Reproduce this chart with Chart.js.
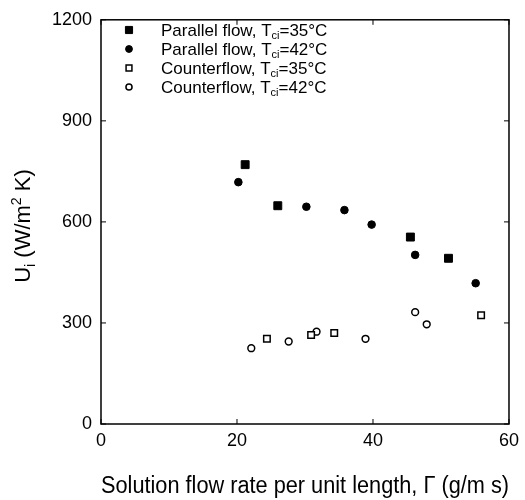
<!DOCTYPE html>
<html>
<head>
<meta charset="utf-8">
<script src="https://cdn.jsdelivr.net/npm/chart.js@4.4.1/dist/chart.umd.min.js"></script>
<style>
  html, body { margin: 0; padding: 0; background: #fff; }
  #wrap { width: 525px; height: 500px; }
</style>
</head>
<body>
<div id="wrap"><canvas id="chart_1" width="525" height="500"></canvas></div>
<script>
// datos: caudal Gamma (g/m s) y U_i (W/m2 K)
var nombres = ["Parallel flow", "Parallel flow", "Counterflow", "Counterflow"];
var temperaturas = ["35°C", "42°C", "35°C", "42°C"];

var gammaPar35 = [21.2, 26.0, 45.5, 51.1];
var uPar35     = [770, 648, 555, 492];

var gammaPar42 = [20.2, 30.2, 35.8, 39.8, 46.2, 55.1];
var uPar42     = [718, 645, 635, 592, 502, 418];

var gammaCon35 = [24.4, 30.9, 34.3, 55.9];
var uCon35     = [253, 264, 270, 323];

var gammaCon42 = [22.1, 27.6, 31.7, 38.9, 46.2, 47.9];
var uCon42     = [225, 245, 274, 253, 332, 296];

var ticksX = [0, 20, 40, 60];
var ticksY = [0, 300, 600, 900, 1200];

function pares(xs, ys) {
  return xs.map(function(x, i) { return { x: x, y: ys[i] }; });
}

var fuente = "Arial, 'Liberation Sans', sans-serif";

var datasets = [
  { data: pares(gammaPar35, uPar35), pointStyle: 'rect', pointRadius: 5.6, backgroundColor: '#000', borderColor: '#000', borderWidth: 1 },
  { data: pares(gammaPar42, uPar42), pointStyle: 'circle', pointRadius: 3.8, backgroundColor: '#000', borderColor: '#000', borderWidth: 1 },
  { data: pares(gammaCon35, uCon35), pointStyle: 'rect', pointRadius: 4.6, backgroundColor: '#fff', borderColor: '#000', borderWidth: 1.5 },
  { data: pares(gammaCon42, uCon42), pointStyle: 'circle', pointRadius: 3.4, backgroundColor: '#fff', borderColor: '#000', borderWidth: 1.5 }
];
datasets.forEach(function(d, i) {
  d.label = nombres[i] + ", Tci=" + temperaturas[i];
  d.pointHoverRadius = d.pointRadius;
});

// marco y marcas hacia adentro
var marco = {
  id: 'marco',
  afterDatasetsDraw: function(chart) {
    var ctx = chart.ctx, a = chart.chartArea;
    var sx = chart.scales.x, sy = chart.scales.y;
    ctx.save();
    ctx.strokeStyle = '#000';
    ctx.lineWidth = 1.5;
    ctx.strokeRect(a.left, a.top, a.right - a.left, a.bottom - a.top);
    ctx.lineWidth = 1;
    ctx.beginPath();
    ticksX.forEach(function(v) {
      var px = sx.getPixelForValue(v);
      ctx.moveTo(px, a.bottom); ctx.lineTo(px, a.bottom - 5);
      ctx.moveTo(px, a.top); ctx.lineTo(px, a.top + 5);
    });
    ticksY.forEach(function(v) {
      var py = sy.getPixelForValue(v);
      ctx.moveTo(a.left, py); ctx.lineTo(a.left + 5, py);
      ctx.moveTo(a.right, py); ctx.lineTo(a.right - 5, py);
    });
    ctx.stroke();
    ctx.restore();
  }
};

// dibuja trozos de texto con subindices / superindices
function textoPartes(ctx, partes, x, y, alinear) {
  var total = 0;
  partes.forEach(function(p) {
    ctx.font = p.size + "px " + fuente;
    p.w = ctx.measureText(p.t).width;
    total += p.w;
  });
  var cx = alinear === 'center' ? x - total / 2 : x;
  partes.forEach(function(p) {
    ctx.font = p.size + "px " + fuente;
    ctx.fillText(p.t, cx, y + (p.dy || 0));
    cx += p.w;
  });
}

var textos = {
  id: 'textos',
  afterDraw: function(chart) {
    var ctx = chart.ctx;
    ctx.save();
    ctx.textBaseline = 'alphabetic';

    // titulo eje y
    ctx.save();
    ctx.fillStyle = '#000';
    ctx.translate(30, 226);
    ctx.rotate(-Math.PI / 2);
    textoPartes(ctx, [
      { t: "U", size: 22 },
      { t: "i", size: 14, dy: 5 },
      { t: " (W/m", size: 22 },
      { t: "2", size: 14, dy: -9 },
      { t: " K)", size: 22 }
    ], 0, 0, 'center');
    ctx.restore();

    // leyenda
    chart.data.datasets.forEach(function(d, i) {
      var y = 30 + i * 19;
      ctx.fillStyle = d.backgroundColor;
      ctx.strokeStyle = d.borderColor;
      ctx.lineWidth = d.borderWidth;
      Chart.helpers.drawPoint(ctx, {
        pointStyle: d.pointStyle, radius: d.pointRadius * 0.9, rotation: 0, borderWidth: d.borderWidth
      }, 129, y);
      ctx.fillStyle = '#000';
      textoPartes(ctx, [
        { t: nombres[i] + ", T", size: 17 },
        { t: "ci", size: 11, dy: 3 },
        { t: "=" + temperaturas[i], size: 17 }
      ], 161, y + 6, 'left');
    });
    ctx.restore();
  }
};

var ctx = document.getElementById('chart_1').getContext('2d');
var chart = new Chart(ctx, {
  type: 'scatter',
  data: { datasets: datasets },
  options: {
    responsive: false,
    animation: false,
    devicePixelRatio: 1,
    layout: { padding: { top: 15, right: 12, left: 0, bottom: 0 } },
    plugins: {
      legend: { display: false },
      tooltip: { enabled: false }
    },
    scales: {
      x: {
        type: 'linear', min: 0, max: 60,
        afterFit: function(s) { s.height = 76; },
        afterBuildTicks: function(s) { s.ticks = ticksX.map(function(v) { return { value: v }; }); },
        grid: { display: false, drawTicks: false },
        border: { display: false },
        ticks: { color: '#000', font: { size: 18, family: fuente }, padding: 6, maxRotation: 0,
                 callback: function(v) { return String(v); } },
        title: {
          display: true,
          text: "Solution flow rate per unit length, Γ (g/m s)",
          color: '#000',
          font: { size: 23, family: fuente },
          padding: { top: 10, bottom: 0 }
        }
      },
      y: {
        type: 'linear', min: 0, max: 1200,
        afterFit: function(s) { s.width = 101; },
        afterBuildTicks: function(s) { s.ticks = ticksY.map(function(v) { return { value: v }; }); },
        grid: { display: false, drawTicks: false },
        border: { display: false },
        ticks: { color: '#000', font: { size: 18, family: fuente }, padding: 9,
                 callback: function(v) { return String(v); } }
      }
    }
  },
  plugins: [marco, textos]
});
</script>
</body>
</html>
